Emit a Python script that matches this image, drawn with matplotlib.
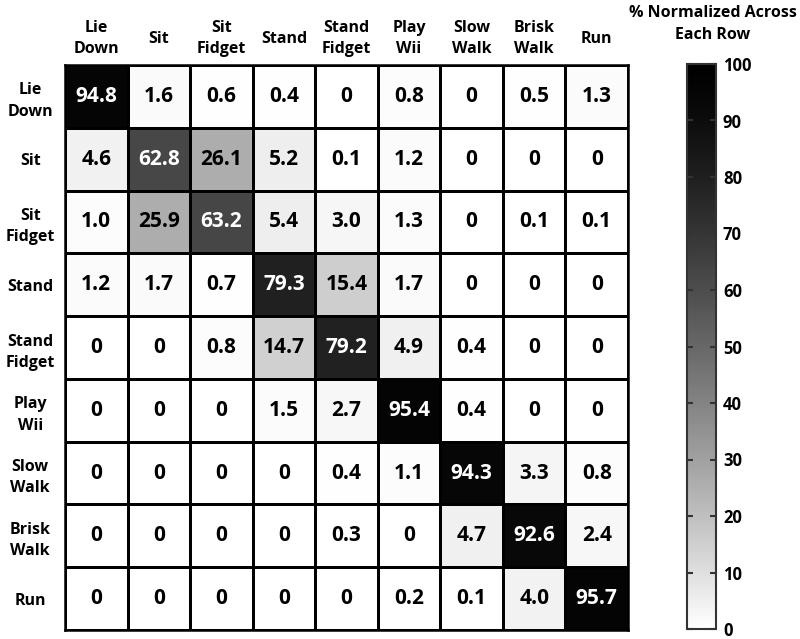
import numpy as np
import matplotlib.pyplot as plt
from matplotlib.colors import ListedColormap

# activity classes (rows = actual, columns = predicted)
col_labels = ['Lie\nDown', 'Sit', 'Sit\nFidget', 'Stand', 'Stand\nFidget',
              'Play\nWii', 'Slow\nWalk', 'Brisk\nWalk', 'Run']
row_labels = ['Lie\nDown', 'Sit', 'Sit\nFidget', 'Stand', 'Stand\nFidget',
              'Play\nWii', 'Slow\nWalk', 'Brisk\nWalk', 'Run']

# percent normalized across each row
row_lie_down = [94.8, 1.6, 0.6, 0.4, 0, 0.8, 0, 0.5, 1.3]
row_sit = [4.6, 62.8, 26.1, 5.2, 0.1, 1.2, 0, 0, 0]
row_sit_fidget = [1.0, 25.9, 63.2, 5.4, 3.0, 1.3, 0, 0.1, 0.1]
row_stand = [1.2, 1.7, 0.7, 79.3, 15.4, 1.7, 0, 0, 0]
row_stand_fidget = [0, 0, 0.8, 14.7, 79.2, 4.9, 0.4, 0, 0]
row_play_wii = [0, 0, 0, 1.5, 2.7, 95.4, 0.4, 0, 0]
row_slow_walk = [0, 0, 0, 0, 0.4, 1.1, 94.3, 3.3, 0.8]
row_brisk_walk = [0, 0, 0, 0, 0.3, 0, 4.7, 92.6, 2.4]
row_run = [0, 0, 0, 0, 0, 0.2, 0.1, 4.0, 95.7]

cbar_ticks = [0, 10, 20, 30, 40, 50, 60, 70, 80, 90, 100]

M = np.array([row_lie_down, row_sit, row_sit_fidget, row_stand, row_stand_fidget,
              row_play_wii, row_slow_walk, row_brisk_walk, row_run])

# white -> black, slightly darker in the middle than a plain linear gray
t = np.linspace(0, 1, 256)
g = (1 - t) ** 1.3
cmap = ListedColormap(np.column_stack([g, g, g]))

plt.rcParams['font.family'] = ['Open Sans', 'DejaVu Sans']
plt.rcParams['font.weight'] = 'bold'

fig = plt.figure(figsize=(8, 6.39), dpi=100)
ax = fig.add_axes([65 / 800, 9 / 639, 563 / 800, 565 / 639])
cax = fig.add_axes([687 / 800, 10 / 639, 29 / 800, 565 / 639])

n = M.shape[0]
mesh = ax.pcolormesh(np.arange(n + 1), np.arange(n + 1), M, cmap=cmap,
                     vmin=0, vmax=100, edgecolors='black', linewidth=1.8)
ax.set_xlim(0, n)
ax.set_ylim(n, 0)

for i in range(n):
    for j in range(n):
        v = M[i, j]
        txt = '0' if v == 0 else f'{v:.1f}'
        ax.text(j + 0.5, i + 0.5, txt, ha='center', va='center',
                fontsize=15, fontweight='bold',
                color='white' if v > 50 else 'black')

ax.xaxis.tick_top()
ax.set_xticks(np.arange(n) + 0.5)
ax.set_xticklabels(col_labels, fontsize=11.5, fontweight='bold', va='center',
                   linespacing=1.45)
ax.set_yticks(np.arange(n) + 0.5)
ax.set_yticklabels(row_labels, fontsize=11.5, fontweight='bold', ha='center',
                   linespacing=1.45)
ax.tick_params(axis='x', length=0, pad=19)
ax.tick_params(axis='y', length=0, pad=25)
for s in ax.spines.values():
    s.set_linewidth(1.8)

cb = fig.colorbar(mesh, cax=cax, ticks=cbar_ticks)
cb.outline.set_linewidth(1.5)
cb.outline.set_edgecolor('#333333')
cax.tick_params(direction='in', left=True, right=True, length=4, width=1.5,
                color='#333333', labelsize=12, pad=5)
for lab in cax.get_yticklabels():
    lab.set_fontweight('bold')
fig.text(713 / 800, 1 - 24 / 639, '% Normalized Across\nEach Row', ha='center',
         va='center', fontsize=11.5, fontweight='bold', linespacing=1.5)

fig.savefig('out.png', dpi=100)
